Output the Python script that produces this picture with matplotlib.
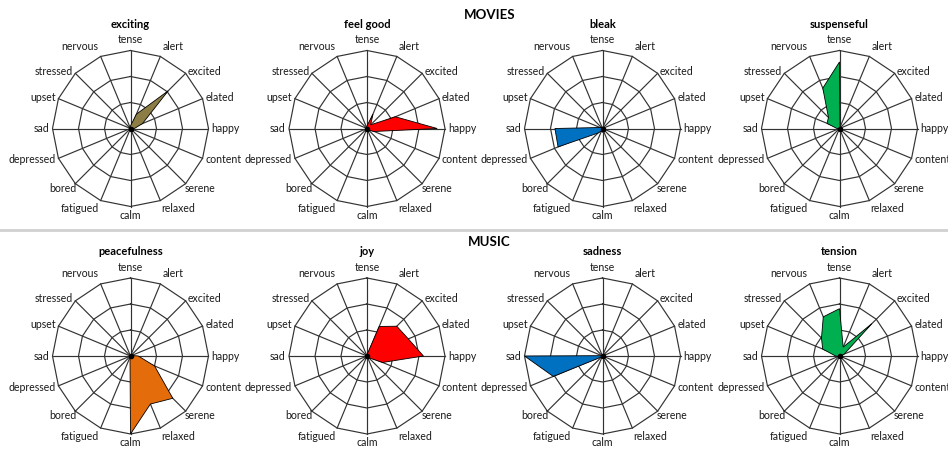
import numpy as np
import matplotlib
matplotlib.use('Agg')
import matplotlib.pyplot as plt

plt.rcParams['font.family'] = ['Lato', 'DejaVu Sans']

# 16 mood words around each radar, clockwise from the top
moods = ['tense', 'alert', 'excited', 'elated', 'happy', 'content', 'serene',
         'relaxed', 'calm', 'fatigued', 'bored', 'depressed', 'sad', 'upset',
         'stressed', 'nervous']

# movie categories (top row)
exciting    = [0.10, 0.60, 2.05, 0.50, 0.15, 0.05, 0.05, 0.05, 0.05, 0.05, 0.05, 0.05, 0.05, 0.05, 0.05, 0.05]
feel_good   = [0.10, 0.60, 0.20, 1.18, 2.70, 0.30, 0.10, 0.05, 0.05, 0.03, 0.03, 0.03, 0.03, 0.03, 0.03, 0.05]
bleak       = [0.05, 0.03, 0.03, 0.03, 0.03, 0.03, 0.05, 0.05, 0.15, 0.10, 0.25, 1.85, 1.83, 0.10, 0.05, 0.05]
suspenseful = [2.56, 0.05, 0.03, 0.03, 0.03, 0.03, 0.03, 0.03, 0.03, 0.03, 0.03, 0.03, 0.10, 0.52, 0.60, 1.68]

# music categories (bottom row)
peacefulness = [0.05, 0.05, 0.05, 0.05, 0.30, 1.00, 2.30, 2.00, 3.00, 0.05, 0.03, 0.03, 0.03, 0.03, 0.03, 0.03]
joy          = [0.05, 1.23, 1.62, 1.72, 2.17, 0.65, 0.10, 0.05, 0.05, 0.03, 0.03, 0.03, 0.03, 0.03, 0.03, 0.03]
sadness      = [0.03, 0.03, 0.03, 0.03, 0.03, 0.03, 0.03, 0.03, 0.03, 0.03, 0.05, 2.05, 3.00, 0.03, 0.03, 0.03]
tension      = [1.82, 0.37, 1.76, 0.20, 0.05, 0.03, 0.03, 0.03, 0.03, 0.03, 0.03, 0.03, 0.15, 0.70, 0.98, 1.63]

top_titles = ['exciting', 'feel good', 'bleak', 'suspenseful']
top_series = [exciting, feel_good, bleak, suspenseful]
top_colors = ['#8c7d45', '#ff0000', '#0070c0', '#00b050']

bottom_titles = ['peacefulness', 'joy', 'sadness', 'tension']
bottom_series = [peacefulness, joy, sadness, tension]
bottom_colors = ['#e46c0a', '#ff0000', '#0070c0', '#00b050']

W, H = 948, 450
fig = plt.figure(figsize=(W / 100, H / 100), dpi=100)

n = len(moods)
angles = np.arange(n) * 2 * np.pi / n
ring_angles = np.append(angles, angles[0])
rmax = 3
R = 78  # outer ring radius in pixels


def radar(cx, cy, title, values, color):
    ax = fig.add_axes([(cx - R) / W, 1 - (cy + R) / H, 2 * R / W, 2 * R / H],
                      projection='polar')
    ax.set_theta_zero_location('N')
    ax.set_theta_direction(-1)
    ax.set_ylim(0, rmax)
    ax.grid(False)
    ax.set_xticks([])
    ax.set_yticks([])
    ax.spines['polar'].set_visible(False)
    ax.patch.set_alpha(0)

    # polygon rings and spokes
    for r in range(1, rmax + 1):
        ax.plot(ring_angles, [r] * len(ring_angles), color='#333333', lw=0.85,
                clip_on=False)
    for a in angles:
        ax.plot([a, a], [0, rmax], color='#333333', lw=0.85, clip_on=False)

    vals = np.append(values, values[0])
    ax.fill(ring_angles, vals, facecolor=color, edgecolor='black', lw=0.6,
            zorder=3)
    ax.plot(0, 0, 'o', color='black', ms=3, zorder=4)

    # mood labels around the outside
    for a, lab in zip(angles, moods):
        s, c = np.sin(a), np.cos(a)
        if abs(s) < 0.1:
            ha = 'center'
        elif s > 0:
            ha = 'left'
        else:
            ha = 'right'
        if c > 0.9:
            va, rr = 'bottom', 3.2
        elif c < -0.9:
            va, rr = 'top', 3.12
        elif c < -0.6:
            va, rr = 'top', 2.95
        else:
            va, rr = 'center', 3.12
        ax.text(a, rr, lab, ha=ha, va=va, fontsize=7.6, color='#1a1a1a',
                clip_on=False)

    fig.text(cx / W, 1 - 24 / H - (cy - 128.5) / H, title, ha='center',
             va='center', fontsize=8, fontweight='bold')


xs = [130.5, 367, 602.5, 839.5]
for x, t, v, c in zip(xs, top_titles, top_series, top_colors):
    radar(x, 128.5, t, v, c)
for x, t, v, c in zip(xs, bottom_titles, bottom_series, bottom_colors):
    radar(x, 356, t, v, c)

fig.text(490 / W, 1 - 15 / H, 'MOVIES', ha='center', va='center',
         fontsize=9.5, fontweight='bold')
fig.text(489 / W, 1 - 242 / H, 'MUSIC', ha='center', va='center',
         fontsize=9.5, fontweight='bold')

# separator between the two rows
fig.add_artist(plt.Line2D([0, 1], [1 - 230 / H, 1 - 230 / H],
                          color='#d0d0d0', lw=2))

fig.savefig('out.png', dpi=100)
